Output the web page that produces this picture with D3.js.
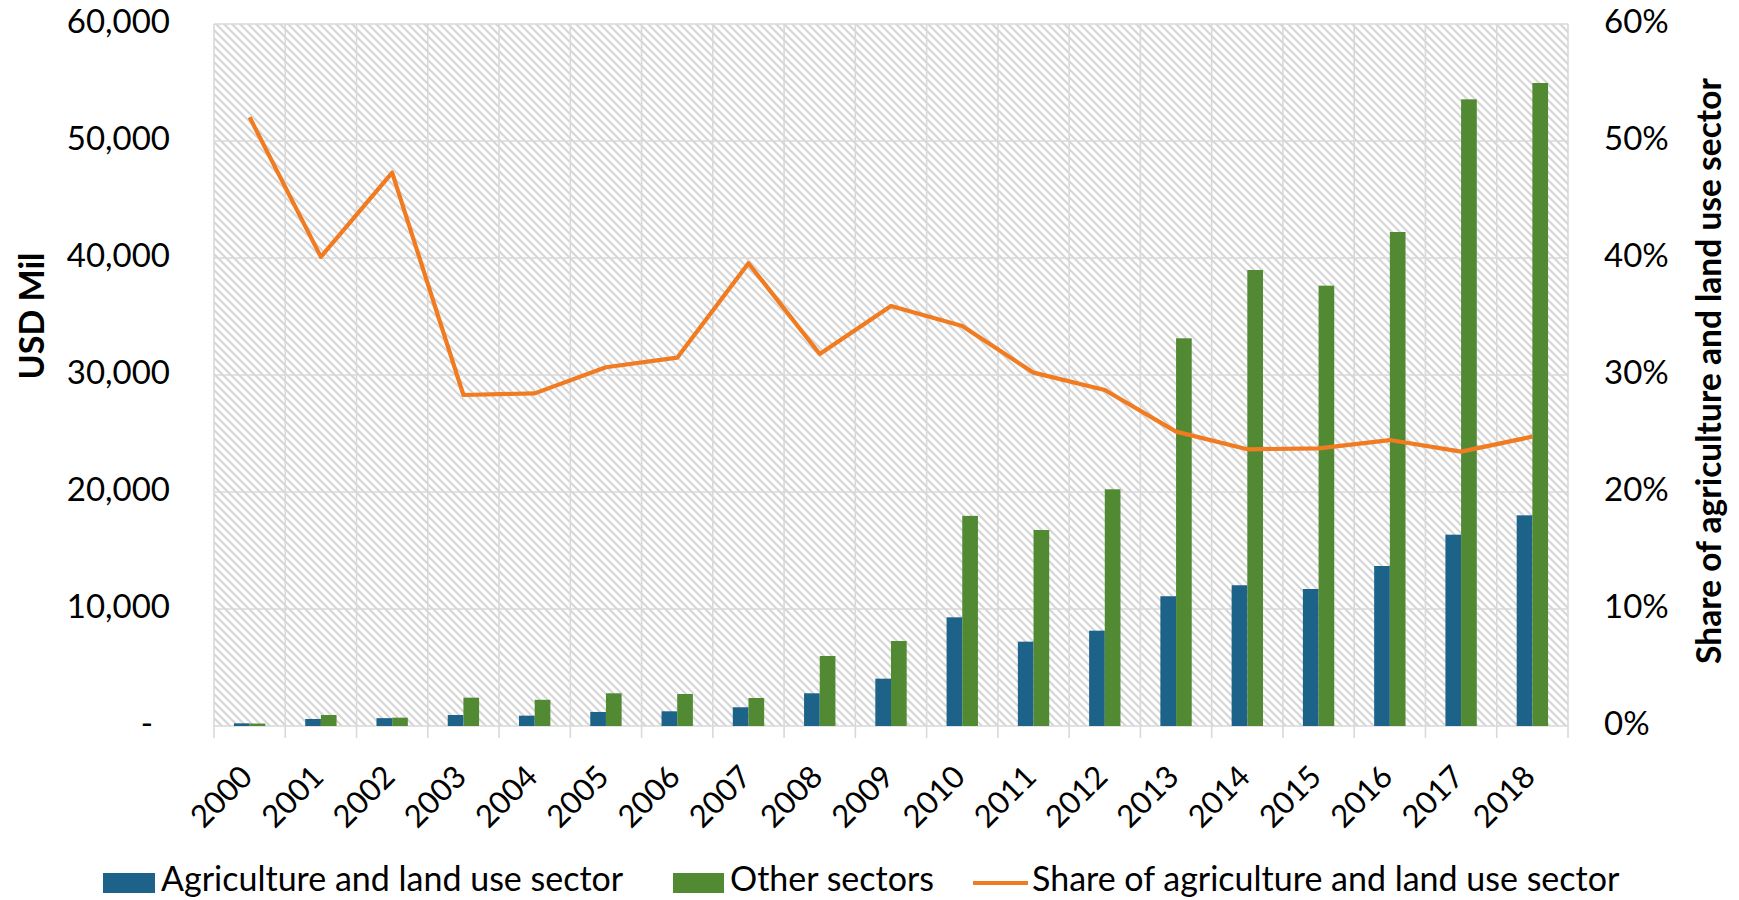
<!DOCTYPE html>
<html>
<head>
<meta charset="utf-8">
<script src="https://cdn.jsdelivr.net/npm/d3@7"></script>
<style>
  html, body { margin: 0; padding: 0; background: #ffffff; }
  svg { display: block; font-family: Lato, "Open Sans", sans-serif; }
</style>
</head>
<body>
<svg id="chart" width="1739" height="900"></svg>
<script>
// Annual flows by year (USD million) and the agriculture share
const years = ["2000","2001","2002","2003","2004","2005","2006","2007","2008","2009",
               "2010","2011","2012","2013","2014","2015","2016","2017","2018"];
const agriculture = [228, 598, 670, 940, 883, 1200, 1256, 1600, 2795, 4046,
                     9288, 7208, 8148, 11090, 12030, 11709, 13675, 16353, 18006];
const otherSectors = [210, 940, 712, 2422, 2240, 2795, 2735, 2393, 5983, 7265,
                      17960, 16752, 20231, 33137, 38974, 37635, 42222, 53561, 54957];
const agriShare = [0.5203, 0.401, 0.473, 0.2829, 0.2843, 0.3066, 0.3148, 0.3955, 0.3179, 0.359,
                   0.3419, 0.302, 0.2872, 0.2516, 0.2365, 0.2373, 0.2444, 0.2345, 0.2473];
const leftTicks = [0, 10000, 20000, 30000, 40000, 50000, 60000];
const rightTicks = [0, 0.1, 0.2, 0.3, 0.4, 0.5, 0.6];
const seriesNames = ["Agriculture and land use sector", "Other sectors", "Share of agriculture and land use sector"];
const colors = { agri: "#1d6289", other: "#528a34", share: "#f07b20" };

const svg = d3.select("#chart");
const plot = { left: 214, right: 1568, top: 24, bottom: 726 };
const gridColor = "#d9d9d9";
const labelSize = 34;

const x = d3.scaleBand().domain(years).range([plot.left, plot.right]).padding(0);
const bw = x.bandwidth();
const xInner = d3.scaleBand().domain(["agri", "other"]).range([bw * 0.28, bw * 0.72]).padding(0);
const yLeft = d3.scaleLinear().domain([0, 60000]).range([plot.bottom, plot.top]);
const yRight = d3.scaleLinear().domain([0, 0.6]).range([plot.bottom, plot.top]);

// Diagonal hatch fill for the plot area
const defs = svg.append("defs");
const pat = defs.append("pattern")
  .attr("id", "hatch").attr("patternUnits", "userSpaceOnUse")
  .attr("width", 8).attr("height", 8);
pat.append("rect").attr("width", 8).attr("height", 8).attr("fill", "#ffffff");
pat.append("path")
  .attr("d", "M-2,-2L10,10M-2,6L2,10M6,-2L10,2")
  .attr("stroke", "#d6d6d6").attr("stroke-width", 2.2).attr("fill", "none");

svg.append("rect")
  .attr("x", plot.left).attr("y", plot.top)
  .attr("width", plot.right - plot.left).attr("height", plot.bottom - plot.top)
  .attr("fill", "url(#hatch)");

// Horizontal gridlines
svg.append("g").selectAll("line").data(leftTicks).join("line")
  .attr("x1", plot.left).attr("x2", plot.right)
  .attr("y1", d => yLeft(d)).attr("y2", d => yLeft(d))
  .attr("stroke", gridColor).attr("stroke-width", 1.6);

// Vertical gridlines at category boundaries, extended below the axis as tick marks
const boundaries = years.map(y => x(y)).concat([plot.right]);
svg.append("g").selectAll("line").data(boundaries).join("line")
  .attr("x1", d => d).attr("x2", d => d)
  .attr("y1", plot.top).attr("y2", plot.bottom + 12)
  .attr("stroke", gridColor).attr("stroke-width", 1.6);

// Bars
const barData = years.map((yr, i) => ({ yr, agri: agriculture[i], other: otherSectors[i] }));
const groups = svg.append("g").selectAll("g").data(barData).join("g")
  .attr("transform", d => `translate(${x(d.yr)},0)`);
groups.selectAll("rect").data(d => [["agri", d.agri], ["other", d.other]]).join("rect")
  .attr("x", d => xInner(d[0]))
  .attr("width", xInner.bandwidth())
  .attr("y", d => yLeft(d[1]))
  .attr("height", d => plot.bottom - yLeft(d[1]))
  .attr("fill", d => colors[d[0]]);

// Share line on the secondary axis
const line = d3.line()
  .x((d, i) => x(years[i]) + bw / 2)
  .y(d => yRight(d));
svg.append("path").datum(agriShare)
  .attr("d", line)
  .attr("fill", "none").attr("stroke", colors.share)
  .attr("stroke-width", 4.2).attr("stroke-linejoin", "round");

// Left axis labels
const fmt = d3.format(",");
svg.append("g").selectAll("text").data(leftTicks).join("text")
  .attr("x", d => d === 0 ? 153 : 170)
  .attr("y", d => yLeft(d) - 3)
  .attr("dy", "0.35em")
  .attr("text-anchor", "end")
  .attr("font-size", 33).attr("fill", "#000")
  .text(d => d === 0 ? "-" : fmt(d));

// Right axis labels
svg.append("g").selectAll("text").data(rightTicks).join("text")
  .attr("x", 1604)
  .attr("y", d => yRight(d) - 3)
  .attr("dy", "0.35em")
  .attr("text-anchor", "start")
  .attr("font-size", 33).attr("fill", "#000")
  .text(d => d3.format(".0%")(d));

// Year labels, rotated
svg.append("g").selectAll("text").data(years).join("text")
  .attr("transform", d => `translate(${x(d) + bw / 2 - 3},${plot.bottom + 45}) rotate(-45)`)
  .attr("text-anchor", "end")
  .attr("dy", "0.35em")
  .attr("font-size", 31).attr("fill", "#000")
  .text(d => d);

// Axis titles
svg.append("text")
  .attr("transform", "translate(32,316) rotate(-90)")
  .attr("text-anchor", "middle").attr("dy", "0.35em")
  .attr("font-size", 34).attr("font-weight", "bold").attr("fill", "#000")
  .text("USD Mil");
svg.append("text")
  .attr("transform", "translate(1709,371) rotate(-90)")
  .attr("text-anchor", "middle").attr("dy", "0.35em")
  .attr("font-size", 33.5).attr("font-weight", "bold").attr("fill", "#000")
  .text(seriesNames[2]);

// Legend
const legendY = 879;
const legend = svg.append("g").attr("font-size", labelSize).attr("fill", "#000");
legend.append("rect").attr("x", 103).attr("y", legendY - 6).attr("width", 52).attr("height", 20).attr("fill", colors.agri);
legend.append("text").attr("x", 161).attr("y", legendY).attr("dy", "0.35em").text(seriesNames[0]);
legend.append("rect").attr("x", 673).attr("y", legendY - 6).attr("width", 51).attr("height", 20).attr("fill", colors.other);
legend.append("text").attr("x", 730).attr("y", legendY).attr("dy", "0.35em").text(seriesNames[1]);
legend.append("line").attr("x1", 973).attr("x2", 1028).attr("y1", legendY + 4).attr("y2", legendY + 4)
  .attr("stroke", colors.share).attr("stroke-width", 4);
legend.append("text").attr("x", 1032).attr("y", legendY).attr("dy", "0.35em").text(seriesNames[2]);
</script>
</body>
</html>
